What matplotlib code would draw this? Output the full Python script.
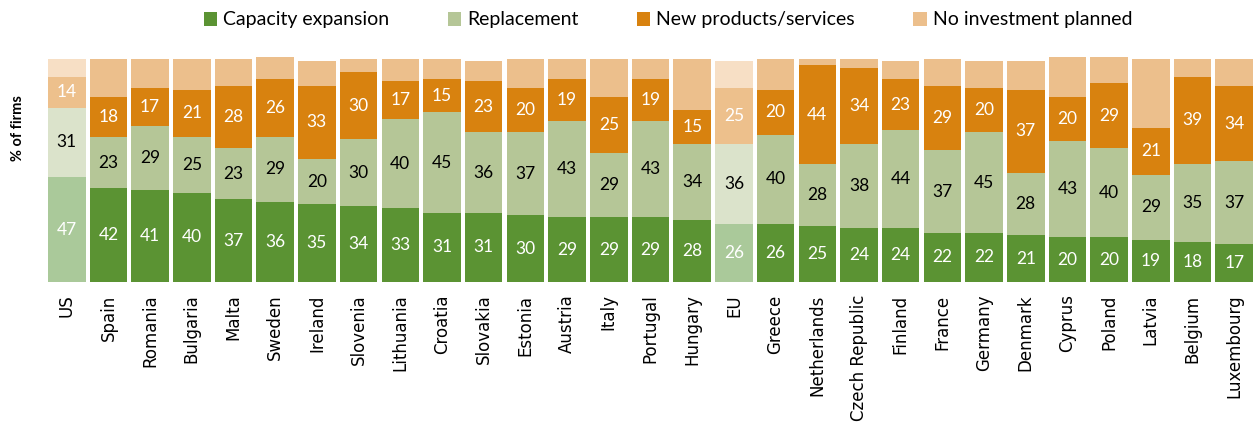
import matplotlib
matplotlib.use("Agg")
import matplotlib.pyplot as plt
from matplotlib.patches import Patch
import numpy as np

countries = ["US", "Spain", "Romania", "Bulgaria", "Malta", "Sweden", "Ireland", "Slovenia",
             "Lithuania", "Croatia", "Slovakia", "Estonia", "Austria", "Italy", "Portugal",
             "Hungary", "EU", "Greece", "Netherlands", "Czech Republic", "Finland", "France",
             "Germany", "Denmark", "Cyprus", "Poland", "Latvia", "Belgium", "Luxembourg"]
capacity = [47, 42, 41, 40, 37, 36, 35, 34, 33, 31, 31, 30, 29, 29, 29, 28, 26, 26, 25, 24, 24,
            22, 22, 21, 20, 20, 19, 18, 17]
replacement = [31, 23, 29, 25, 23, 29, 20, 30, 40, 45, 36, 37, 43, 29, 43, 34, 36, 40, 28, 38,
               44, 37, 45, 28, 43, 40, 29, 35, 37]
new_products = [14, 18, 17, 21, 28, 26, 33, 30, 17, 15, 23, 20, 19, 25, 19, 15, 25, 20, 44, 34,
                23, 29, 20, 37, 20, 29, 21, 39, 34]
no_invest = [8, 17, 13, 14, 12, 10, 11, 6, 10, 9, 9, 13, 9, 17, 9, 23, 12, 14, 3, 4, 8, 12, 12,
             13, 18, 12, 31, 8, 12]
series_names = ["Capacity expansion", "Replacement", "New products/services", "No investment planned"]

colors = ["#5B9333", "#B5C697", "#D8820F", "#ECBF8C"]
light_colors = ["#AAC99A", "#DBE3CB", "#EDC08C", "#F7DFC5"]
text_colors = ["white", "black", "white", None]
highlight = {"US", "EU"}

fig = plt.figure(figsize=(12.53, 4.24), dpi=100)
ax = fig.add_axes([48 / 1253, 1 - 282 / 424, 1 - 48 / 1253, 225 / 424])

x = np.arange(len(countries))
data = [capacity, replacement, new_products, no_invest]
bottom = np.zeros(len(countries))
width = 0.9
for si, vals in enumerate(data):
    vals = np.array(vals, dtype=float)
    cols = [light_colors[si] if c in highlight else colors[si] for c in countries]
    ax.bar(x, vals, width=width, bottom=bottom, color=cols, edgecolor="none")
    if text_colors[si] is not None:
        for i, v in enumerate(vals):
            ax.text(x[i], bottom[i] + v / 2, f"{int(v)}", ha="center", va="center",
                    color=text_colors[si], fontsize=12.5, family="Lato")
    bottom += vals

ax.set_xlim(-0.45, len(countries) - 0.55)
ax.set_ylim(0, 100.8)
for s in ax.spines.values():
    s.set_visible(False)
ax.set_yticks([])
ax.set_xticks(x)
ax.set_xticklabels(countries, rotation=90, fontsize=12, family="DejaVu Sans")
ax.tick_params(axis="x", length=0, pad=9)

fig.text(18 / 1253, 1 - 128 / 424, "% of firms", rotation=90, ha="center", va="center",
         fontsize=10.5, fontweight="bold", family="Lato")

handles = [Patch(facecolor=c, edgecolor="none") for c in colors]
leg = fig.legend(handles, series_names, loc="center", bbox_to_anchor=(0.533, 1 - 20 / 424), ncol=4,
                 frameon=False, prop={"family": "Lato", "size": 14}, handlelength=0.7,
                 handleheight=0.7, handletextpad=0.3, columnspacing=3.0)

fig.savefig("out.png", dpi=100)
